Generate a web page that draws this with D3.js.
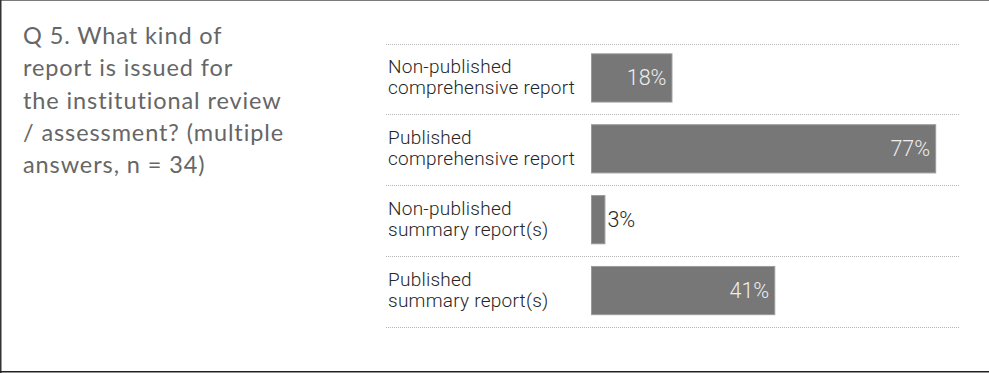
<!DOCTYPE html>
<html>
<head>
<meta charset="utf-8">
<script src="https://cdn.jsdelivr.net/npm/d3@7"></script>
<style>
  html, body { margin: 0; padding: 0; background: #fff; }
  svg { display: block; }
</style>
</head>
<body>
<svg id="chart" width="989" height="373"></svg>
<script>
// Survey question and answers
const titleLines = [
  "Q 5. What kind of",
  "report is issued for",
  "the institutional review",
  "/ assessment? (multiple",
  "answers, n = 34)"
];
const categories = [
  ["Non-published", "comprehensive report"],
  ["Published", "comprehensive report"],
  ["Non-published", "summary report(s)"],
  ["Published", "summary report(s)"]
];
const values = [18, 77, 3, 41];

const svg = d3.select("#chart");
const W = 989, H = 373;

// Frame: gray top edge, dark left and bottom edges
svg.append("line").attr("x1", 0).attr("x2", W).attr("y1", 0.5).attr("y2", 0.5)
  .attr("stroke", "#7a7a7a").attr("stroke-width", 1);
svg.append("line").attr("x1", 0.75).attr("x2", 0.75).attr("y1", 0).attr("y2", H)
  .attr("stroke", "#333").attr("stroke-width", 1.5);
svg.append("line").attr("x1", 0).attr("x2", W).attr("y1", 371.75).attr("y2", 371.75)
  .attr("stroke", "#222").attr("stroke-width", 1.5);

// Question text
const title = svg.append("text")
  .attr("x", 23)
  .attr("font-family", "Lato, 'Open Sans', sans-serif")
  .attr("font-size", 23.5)
  .attr("letter-spacing", 0.9)
  .attr("fill", "#666");
titleLines.forEach((t, i) => {
  title.append("tspan").attr("x", 23).attr("y", 44 + i * 32.3).text(t);
});

// Scales
const x = d3.scaleLinear().domain([0, 100]).range([591, 1038]);
const rowTop = 43.5, rowBottom = 327;
const y = d3.scaleBand()
  .domain(d3.range(categories.length))
  .range([rowTop - 1.5, rowBottom - 1.5])
  .paddingInner(0.32)
  .paddingOuter(0.16);

// Dotted separators between rows
const sepY = d3.range(categories.length + 1).map(i => rowTop + i * y.step());
svg.append("g").selectAll("line").data(sepY).join("line")
  .attr("x1", 386).attr("x2", 960)
  .attr("y1", d => Math.round(d) + 0.5).attr("y2", d => Math.round(d) + 0.5)
  .attr("stroke", "#b5b5b5")
  .attr("stroke-width", 1)
  .attr("stroke-dasharray", "1,1");

// Category labels
const labels = svg.append("g")
  .attr("font-family", "Roboto, 'Liberation Sans', Arial, sans-serif")
  .attr("font-weight", 300)
  .attr("font-size", 19)
  .attr("letter-spacing", 0.25)
  .attr("fill", "#262626");
categories.forEach((lines, i) => {
  const cy = y(i) + y.bandwidth() / 2;
  const t = labels.append("text").attr("x", 388);
  lines.forEach((l, j) => {
    t.append("tspan").attr("x", 388).attr("y", cy - 4 + j * 21).text(l);
  });
});

// Bars
svg.append("g").selectAll("rect").data(values).join("rect")
  .attr("x", x(0) + 0.5)
  .attr("y", (d, i) => y(i) + 0.5)
  .attr("width", d => x(d) - x(0))
  .attr("height", y.bandwidth())
  .attr("fill", "#777777")
  .attr("stroke", "#9a9a9a")
  .attr("stroke-width", 1);

// Value labels: inside the bar when it fits, otherwise just past its end
svg.append("g").selectAll("text").data(values).join("text")
  .attr("font-family", "Roboto, 'Liberation Sans', Arial, sans-serif")
  .attr("font-weight", 300)
  .attr("font-size", 21.5)
  .attr("y", (d, i) => y(i) + y.bandwidth() / 2 + 7.5)
  .attr("x", d => d >= 10 ? x(d) - 5 : x(d) + 3)
  .attr("text-anchor", d => d >= 10 ? "end" : "start")
  .attr("fill", d => d >= 10 ? "#eeeeee" : "#262626")
  .text(d => d + "%");
</script>
</body>
</html>
